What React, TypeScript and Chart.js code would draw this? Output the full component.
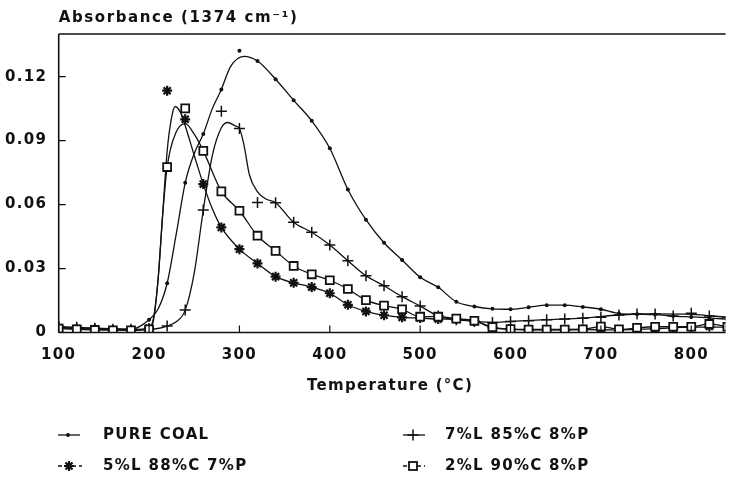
import React, { useEffect, useRef } from 'react';
import { Chart, registerables } from 'chart.js';

Chart.register(...registerables);

// ---------- data ----------
const temps = [100, 120, 140, 160, 180, 200, 220, 240, 260, 280, 300, 320, 340, 360, 380, 400, 420, 440, 460, 480, 500, 520, 540, 560, 580, 600, 620, 640, 660, 680, 700, 720, 740, 760, 780, 800, 820, 840];

const pureCoalMarks = [0.0025, 0.002, 0.0018, 0.0015, 0.0015, 0.006, 0.0231, 0.0702, 0.0931, 0.114, 0.1321, 0.1273, 0.1188, 0.1089, 0.0993, 0.0864, 0.0671, 0.0529, 0.0421, 0.034, 0.0259, 0.0212, 0.0144, 0.0122, 0.0111, 0.0109, 0.0118, 0.0128, 0.0128, 0.012, 0.0109, 0.0089, 0.0086, 0.0084, 0.0077, 0.0073, 0.0069, 0.0062];
const starMarks = [0.0022, 0.0018, 0.0015, 0.0012, 0.0012, 0.002, 0.1134, 0.1, 0.0696, 0.0493, 0.0391, 0.0324, 0.0262, 0.0233, 0.0213, 0.0184, 0.013, 0.0099, 0.0081, 0.0071, 0.0068, 0.0063, 0.0062, 0.0054, 0.0023, 0.0015, 0.0012, 0.0012, 0.0012, 0.0014, 0.0015, 0.0012, 0.0015, 0.0018, 0.002, 0.0025, 0.0028, 0.0025];
const plusMarks = [0.0028, 0.0025, 0.002, 0.0015, 0.0015, 0.0015, 0.003, 0.0105, 0.0574, 0.1038, 0.0957, 0.061, 0.0609, 0.0517, 0.047, 0.041, 0.0337, 0.0266, 0.0219, 0.0168, 0.0124, 0.0077, 0.006, 0.0052, 0.0047, 0.0052, 0.0055, 0.006, 0.0063, 0.0067, 0.0071, 0.0082, 0.0087, 0.0087, 0.0077, 0.009, 0.0077, 0.0071];
const squareMarks = [0.0018, 0.0015, 0.0012, 0.001, 0.001, 0.0015, 0.0776, 0.1051, 0.0852, 0.0662, 0.0571, 0.0454, 0.0383, 0.0312, 0.0273, 0.0245, 0.0204, 0.0152, 0.0126, 0.0109, 0.0074, 0.0074, 0.0065, 0.0055, 0.0025, 0.0016, 0.0014, 0.0014, 0.0014, 0.0015, 0.0028, 0.0015, 0.0022, 0.0027, 0.0027, 0.0027, 0.004, 0.0027];

// smoothed curves (as drawn through the points)
const pureCoalCurveT = [100, 140, 180, 200, 210, 220, 230, 240, 250, 260, 270, 280, 290, 305, 320, 340, 360, 380, 400, 420, 440, 460, 480, 500, 520, 540, 560, 580, 600, 620, 640, 660, 680, 700, 720, 740, 760, 780, 800, 820, 840];
const pureCoalCurve = [0.0025, 0.0018, 0.0015, 0.006, 0.011, 0.0231, 0.046, 0.0702, 0.084, 0.0931, 0.105, 0.114, 0.1246, 0.1295, 0.1273, 0.1188, 0.1089, 0.0993, 0.0864, 0.0671, 0.0529, 0.0421, 0.034, 0.0259, 0.0212, 0.0144, 0.0122, 0.0111, 0.0109, 0.0118, 0.0128, 0.0128, 0.012, 0.0109, 0.0089, 0.0086, 0.0084, 0.0077, 0.0073, 0.0069, 0.0062];
const starCurveT = [100, 140, 180, 200, 205, 210, 215, 220, 225, 229, 235, 240, 250, 260, 270, 280, 300, 320, 340, 360, 380, 400, 420, 440, 460, 480, 500, 520, 540, 560, 580, 600, 640, 680, 720, 760, 800, 840];
const starCurve = [0.0022, 0.0015, 0.0012, 0.002, 0.007, 0.025, 0.055, 0.085, 0.101, 0.106, 0.103, 0.097, 0.083, 0.0696, 0.058, 0.0493, 0.0391, 0.0324, 0.0262, 0.0233, 0.0213, 0.0184, 0.013, 0.0099, 0.0081, 0.0071, 0.0068, 0.0063, 0.0062, 0.0054, 0.0023, 0.0015, 0.0012, 0.0014, 0.0012, 0.0018, 0.0025, 0.0025];
const plusCurveT = [100, 140, 180, 200, 220, 230, 240, 250, 260, 270, 280, 287, 295, 300, 305, 311, 320, 330, 340, 360, 380, 400, 420, 440, 460, 480, 500, 520, 540, 560, 580, 600, 640, 680, 720, 760, 800, 840];
const plusCurve = [0.0028, 0.002, 0.0015, 0.0015, 0.003, 0.005, 0.0105, 0.028, 0.0574, 0.083, 0.096, 0.0985, 0.097, 0.0957, 0.088, 0.074, 0.066, 0.0625, 0.0609, 0.0517, 0.047, 0.041, 0.0337, 0.0266, 0.0219, 0.0168, 0.0124, 0.0077, 0.006, 0.0052, 0.0047, 0.0052, 0.006, 0.0067, 0.0082, 0.0087, 0.0085, 0.0071];
const squareCurveT = [100, 140, 180, 200, 205, 210, 215, 220, 230, 240, 250, 260, 280, 300, 320, 340, 360, 380, 400, 420, 440, 460, 480, 500, 520, 540, 560, 580, 600, 640, 680, 700, 720, 760, 800, 820, 840];
const squareCurve = [0.0018, 0.0012, 0.001, 0.0015, 0.006, 0.025, 0.055, 0.0776, 0.094, 0.098, 0.093, 0.0852, 0.0662, 0.0571, 0.0454, 0.0383, 0.0312, 0.0273, 0.0245, 0.0204, 0.0152, 0.0126, 0.0109, 0.0074, 0.0074, 0.0065, 0.0055, 0.0025, 0.0016, 0.0014, 0.0015, 0.0028, 0.0015, 0.0027, 0.0027, 0.004, 0.0027];

const seriesLabels = ['PURE COAL', '5%L 88%C 7%P', '7%L 85%C 8%P', '2%L 90%C 8%P'];
const xTicks = [100, 200, 300, 400, 500, 600, 700, 800];
const yTicks = [0, 0.03, 0.06, 0.09, 0.12];
const yTitle = 'Absorbance (1374 cm\u207B\u00B9)';
const xTitle = 'Temperature (\u00B0C)';

// ---------- styling ----------
const INK = '#111111';
const FONT = '"DejaVu Sans", sans-serif';
const LS = '1.3px';

const zip = (xs: number[], ys: number[]) => xs.map((x, i) => ({ x, y: ys[i] }));

type Kind = 'dot' | 'star' | 'plus' | 'square';

function drawMark(ctx: CanvasRenderingContext2D, kind: Kind, x: number, y: number) {
  ctx.save();
  ctx.setLineDash([]);
  ctx.strokeStyle = INK;
  ctx.fillStyle = INK;
  if (kind === 'dot') {
    ctx.beginPath();
    ctx.arc(x, y, 2, 0, Math.PI * 2);
    ctx.fill();
  } else if (kind === 'star') {
    ctx.lineWidth = 2.2;
    ctx.beginPath();
    for (let k = 0; k < 4; k++) {
      const a = (k * Math.PI) / 4;
      ctx.moveTo(x - 5 * Math.cos(a), y - 5 * Math.sin(a));
      ctx.lineTo(x + 5 * Math.cos(a), y + 5 * Math.sin(a));
    }
    ctx.stroke();
  } else if (kind === 'plus') {
    ctx.lineWidth = 1.5;
    ctx.beginPath();
    ctx.moveTo(x - 5.5, y);
    ctx.lineTo(x + 5.5, y);
    ctx.moveTo(x, y - 5.5);
    ctx.lineTo(x, y + 5.5);
    ctx.stroke();
  } else {
    ctx.lineWidth = 1.8;
    ctx.fillStyle = '#ffffff';
    ctx.fillRect(x - 4, y - 4, 8, 8);
    ctx.strokeRect(x - 4, y - 4, 8, 8);
  }
  ctx.restore();
}

const legendItems: { label: string; kind: Kind; x0: number; x1: number; tx: number; y: number; dash: number[] }[] = [
  { label: seriesLabels[0], kind: 'dot', x0: 58, x1: 80, tx: 103, y: 435, dash: [] },
  { label: seriesLabels[1], kind: 'star', x0: 58, x1: 82, tx: 103, y: 466, dash: [4, 3] },
  { label: seriesLabels[2], kind: 'plus', x0: 403, x1: 425, tx: 445, y: 435, dash: [] },
  { label: seriesLabels[3], kind: 'square', x0: 403, x1: 425, tx: 445, y: 466, dash: [4, 3] },
];

const decorPlugin = {
  id: 'decor',
  beforeDraw(chart: any) {
    (chart.ctx as any).letterSpacing = LS;
  },
  afterDraw(chart: any) {
    const { ctx, chartArea: a, scales } = chart;
    ctx.save();
    ctx.strokeStyle = INK;
    ctx.lineWidth = 1.6;
    ctx.beginPath();
    ctx.moveTo(a.left, a.top);
    ctx.lineTo(a.right, a.top);
    ctx.moveTo(a.left, a.top);
    ctx.lineTo(a.left, a.bottom);
    ctx.moveTo(a.left, a.bottom);
    ctx.lineTo(a.right, a.bottom);
    ctx.stroke();

    ctx.lineWidth = 1.2;
    ctx.beginPath();
    for (const t of xTicks) {
      const x = scales.x.getPixelForValue(t);
      ctx.moveTo(x, a.bottom);
      ctx.lineTo(x, a.bottom - 7);
    }
    for (const t of yTicks) {
      const y = scales.y.getPixelForValue(t);
      ctx.moveTo(a.left, y);
      ctx.lineTo(a.left + 7, y);
    }
    ctx.stroke();

    ctx.fillStyle = INK;
    ctx.font = `bold 15px ${FONT}`;
    (ctx as any).letterSpacing = '1.6px';
    ctx.textAlign = 'left';
    ctx.textBaseline = 'middle';
    ctx.fillText(yTitle, a.left, 18.5);

    (ctx as any).letterSpacing = LS;
    ctx.textAlign = 'center';
    ctx.fillText(xTitle, 390, 386);

    ctx.textAlign = 'left';
    for (const it of legendItems) {
      ctx.save();
      ctx.lineWidth = 1.3;
      ctx.setLineDash(it.dash);
      ctx.beginPath();
      ctx.moveTo(it.x0, it.y);
      ctx.lineTo(it.x1, it.y);
      ctx.stroke();
      ctx.restore();
      drawMark(ctx, it.kind, (it.x0 + it.x1) / 2 - 1, it.y);
      ctx.fillText(it.label, it.tx, it.y);
    }
    ctx.restore();
  },
};

function markDataset(label: string, data: number[], style: any) {
  return {
    label,
    data: zip(temps, data),
    showLine: false,
    borderColor: INK,
    backgroundColor: INK,
    ...style,
  };
}

function curveDataset(label: string, xs: number[], ys: number[]) {
  return {
    label,
    data: zip(xs, ys),
    borderColor: INK,
    borderWidth: 1.3,
    pointRadius: 0,
    fill: false,
    cubicInterpolationMode: 'monotone',
  };
}

export default function App() {
  const ref = useRef<HTMLCanvasElement>(null);
  useEffect(() => {
    if (!ref.current) return;
    const chart = new Chart(ref.current, {
      type: 'line',
      data: {
        datasets: [
          markDataset(seriesLabels[3], squareMarks, { pointStyle: 'rect', pointRadius: 5.6, borderWidth: 1.8, backgroundColor: '#ffffff' }),
          markDataset(seriesLabels[2], plusMarks, { pointStyle: 'cross', pointRadius: 5.5, borderWidth: 1.5 }),
          markDataset(seriesLabels[1], starMarks, { pointStyle: 'star', pointRadius: 5, borderWidth: 2.2 }),
          markDataset(seriesLabels[0], pureCoalMarks, { pointStyle: 'circle', pointRadius: 2, borderWidth: 0 }),
          curveDataset(seriesLabels[0] + ' curve', pureCoalCurveT, pureCoalCurve),
          curveDataset(seriesLabels[1] + ' curve', starCurveT, starCurve),
          curveDataset(seriesLabels[2] + ' curve', plusCurveT, plusCurve),
          curveDataset(seriesLabels[3] + ' curve', squareCurveT, squareCurve),
        ] as any,
      },
      options: {
        animation: false,
        responsive: false,
        devicePixelRatio: 1,
        events: [],
        layout: { padding: { left: 0, right: 0, top: 34, bottom: 0 } },
        plugins: {
          legend: { display: false },
          tooltip: { enabled: false },
          title: { display: false },
        },
        scales: {
          x: {
            type: 'linear',
            min: 100,
            max: 838,
            afterBuildTicks: (s: any) => {
              s.ticks = xTicks.map((v) => ({ value: v }));
            },
            afterFit: (s: any) => {
              s.height = 147.5;
            },
            grid: { display: false, drawTicks: false },
            border: { display: false },
            ticks: {
              color: INK,
              padding: 13.5,
              maxRotation: 0,
              autoSkip: false,
              font: { family: FONT, size: 15, weight: 'bold' },
              callback: (v: any) => String(v),
            },
          },
          y: {
            type: 'linear',
            min: 0,
            max: 0.14,
            afterBuildTicks: (s: any) => {
              s.ticks = yTicks.map((v) => ({ value: v }));
            },
            afterFit: (s: any) => {
              s.width = 58.7;
            },
            grid: { display: false, drawTicks: false },
            border: { display: false },
            ticks: {
              color: INK,
              padding: 11.5,
              font: { family: FONT, size: 15, weight: 'bold' },
              callback: (v: any) => (v === 0 ? '0' : Number(v).toFixed(2)),
            },
          },
        },
      } as any,
      plugins: [decorPlugin],
    });
    return () => chart.destroy();
  }, []);

  return (
    <div style={{ position: 'fixed', left: 0, top: 0, width: 733, height: 480, background: '#ffffff' }}>
      <canvas ref={ref} width={733} height={480} style={{ display: 'block', width: 733, height: 480 }} />
    </div>
  );
}
